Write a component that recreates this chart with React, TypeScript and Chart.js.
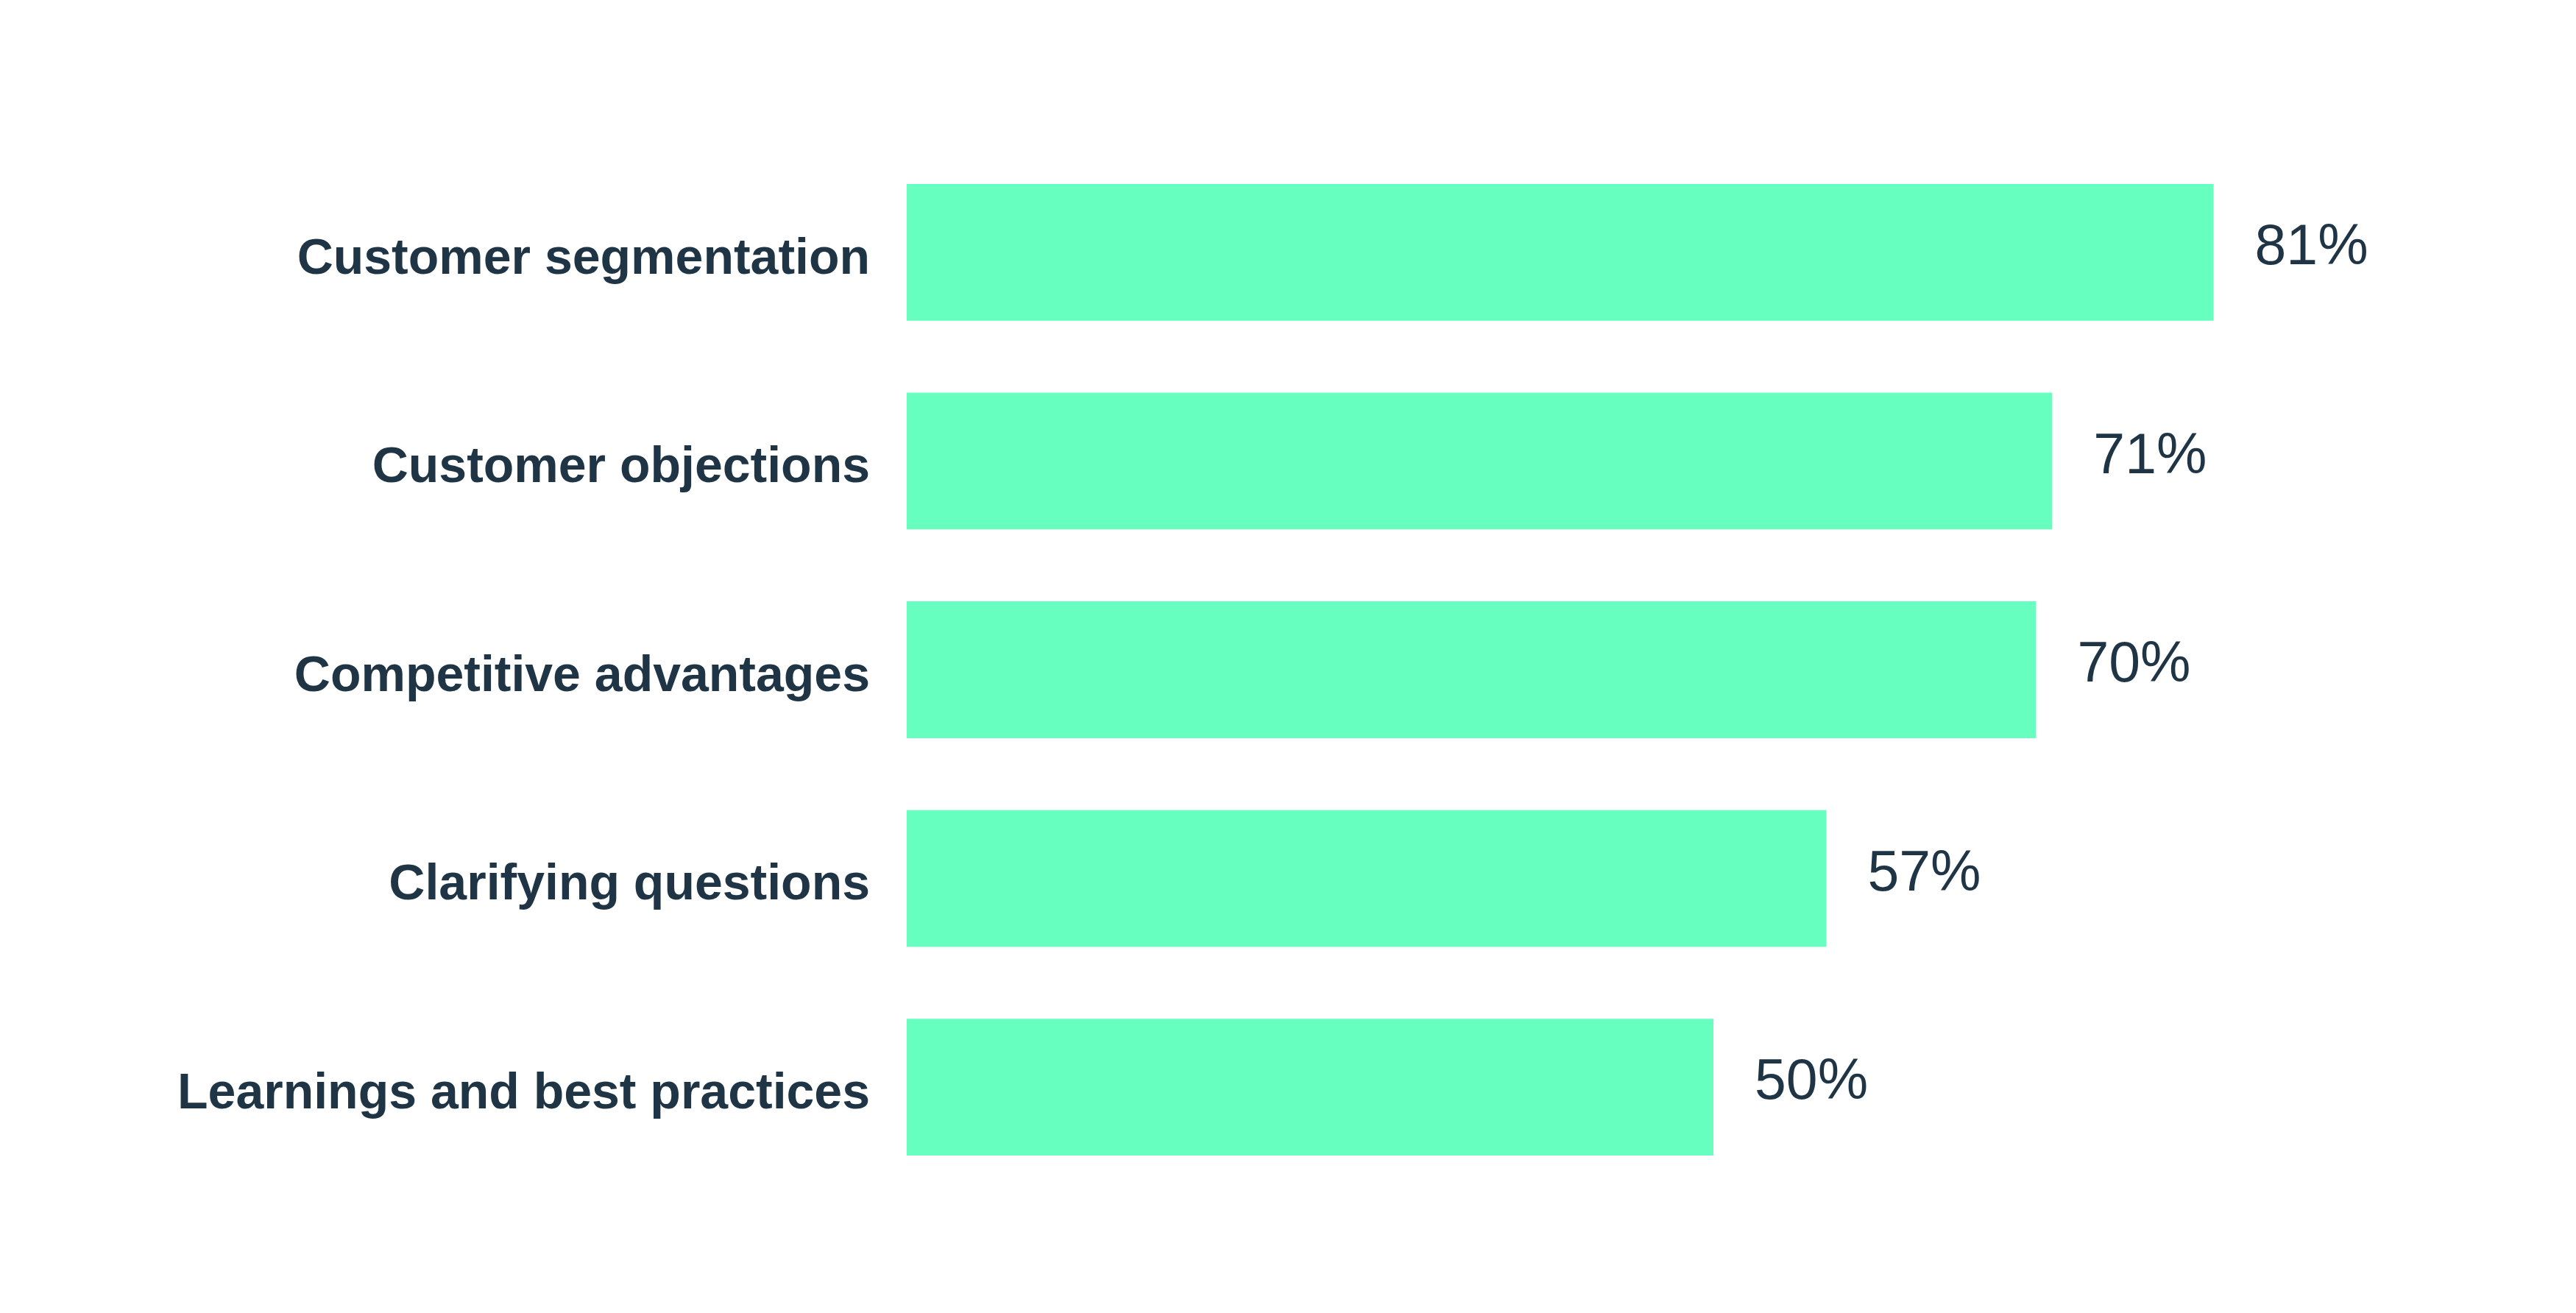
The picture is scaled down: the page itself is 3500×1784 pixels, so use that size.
import React, { useEffect, useRef } from "react";
import { Chart, registerables } from "chart.js";

Chart.register(...registerables);

const categories = [
  "Customer segmentation",
  "Customer objections",
  "Competitive advantages",
  "Clarifying questions",
  "Learnings and best practices",
];
const values = [81, 71, 70, 57, 50];
const valueSuffix = "%";

const BAR_COLOR = "#66FFBF";
const TEXT_COLOR = "#1F3545";
const FONT = "'Liberation Sans', Arial, Helvetica, sans-serif";

const valueLabels = {
  id: "valueLabels",
  afterDatasetsDraw(chart: any) {
    const ctx = chart.ctx;
    const meta = chart.getDatasetMeta(0);
    ctx.save();
    ctx.font = `400 77px ${FONT}`;
    ctx.fillStyle = TEXT_COLOR;
    ctx.textAlign = "left";
    ctx.textBaseline = "middle";
    meta.data.forEach((bar: any, i: number) => {
      const v = chart.data.datasets[0].data[i];
      ctx.fillText(`${v}${valueSuffix}`, bar.x + 56, bar.y - 5);
    });
    ctx.restore();
  },
};

export default function App() {
  const ref = useRef<HTMLCanvasElement | null>(null);

  useEffect(() => {
    document.body.style.margin = "0";
    const canvas = ref.current;
    if (!canvas) return;
    const chart = new Chart(canvas, {
      type: "bar",
      data: {
        labels: categories,
        datasets: [
          {
            data: values,
            backgroundColor: BAR_COLOR,
            borderWidth: 0,
            barPercentage: 0.655,
            categoryPercentage: 1,
          },
        ],
      },
      options: {
        indexAxis: "y",
        animation: false,
        responsive: false,
        devicePixelRatio: 1,
        layout: { padding: { left: 0, right: 76, top: 201, bottom: 165 } },
        plugins: {
          legend: { display: false },
          tooltip: { enabled: false },
          title: { display: false },
        },
        scales: {
          x: {
            display: false,
            min: 0,
            max: 100,
          },
          y: {
            grid: { display: false, drawTicks: false, drawOnChartArea: false },
            border: { display: false },
            ticks: {
              color: TEXT_COLOR,
              font: { family: FONT, size: 68, weight: "bold" },
              padding: 50,
              labelOffset: 10,
            },
            afterFit(axis: any) {
              axis.width = 1232;
            },
          },
        },
      },
      plugins: [valueLabels],
    });
    return () => chart.destroy();
  }, []);

  return (
    <div style={{ position: "absolute", left: 0, top: 0, width: 3500, height: 1784, background: "#fff" }}>
      <canvas ref={ref} width={3500} height={1784} style={{ width: 3500, height: 1784, display: "block" }} />
    </div>
  );
}
